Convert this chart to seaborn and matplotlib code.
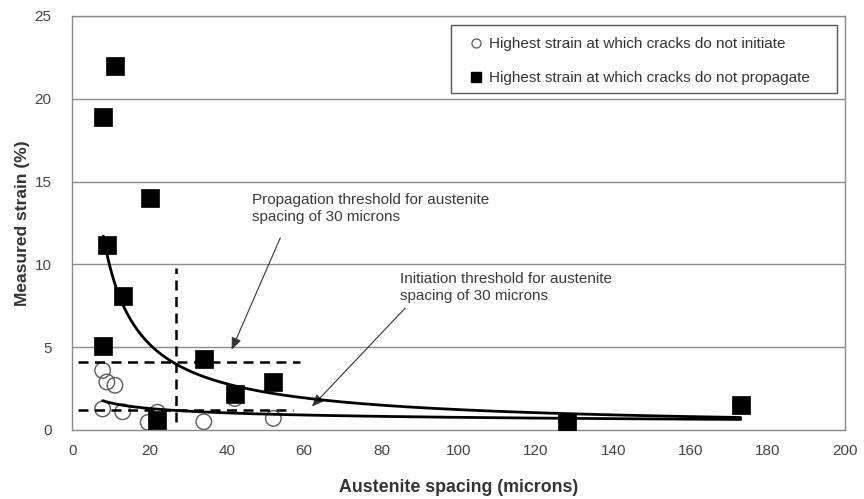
import numpy as np
import pandas as pd
import matplotlib
matplotlib.use("Agg")
import matplotlib.pyplot as plt
from matplotlib.lines import Line2D
from matplotlib.patches import Rectangle
import seaborn as sns

# Highest strain at which cracks do not initiate (open circles)
init_spacing = [7.8, 8.9, 11.0, 7.8, 13.0, 19.6, 22.0, 34.0, 42.0, 52.0, 128.0, 173.0]
init_strain = [3.6, 2.9, 2.7, 1.27, 1.1, 0.46, 1.07, 0.5, 1.9, 0.7, 0.5, 1.5]

# Highest strain at which cracks do not propagate (filled squares)
prop_spacing = [11.0, 8.0, 20.0, 9.0, 13.0, 8.0, 34.0, 42.0, 52.0, 22.0, 128.0, 173.0]
prop_strain = [22.0, 18.9, 14.0, 11.2, 8.1, 5.1, 4.3, 2.2, 2.9, 0.6, 0.5, 1.5]

# Threshold guide lines at 30 micron austenite spacing
guide_spacing = 26.7
prop_threshold = 4.1
init_threshold = 1.2

x_ticks = list(range(0, 201, 20))
y_ticks = list(range(0, 26, 5))

legend_labels = ["Highest strain at which cracks do not initiate",
                 "Highest strain at which cracks do not propagate"]
prop_note = "Propagation threshold for austenite\nspacing of 30 microns"
init_note = "Initiation threshold for austenite\nspacing of 30 microns"

sns.set_style("white")
plt.rcParams["font.family"] = ["Liberation Sans", "DejaVu Sans"]

init_df = pd.DataFrame({"spacing": init_spacing, "strain": init_strain})
prop_df = pd.DataFrame({"spacing": prop_spacing, "strain": prop_strain})


def power_trend(df, n=300):
    """Least-squares power-law trendline (straight line in log-log space)."""
    b, ln_a = np.polyfit(np.log(df["spacing"]), np.log(df["strain"]), 1)
    xs = np.linspace(df["spacing"].min(), df["spacing"].max(), n)
    return pd.DataFrame({"spacing": xs, "strain": np.exp(ln_a) * xs ** b})


fig = plt.figure(figsize=(8.64, 4.99), dpi=100)
ax = fig.add_axes([0.0839, 0.1383, 0.978 - 0.0839, 0.968 - 0.1383])

grid_c = "#8a8a8a"
for y in y_ticks[1:]:
    ax.axhline(y, color=grid_c, lw=1.0, zorder=0)

# data points
sns.scatterplot(data=init_df, x="spacing", y="strain", ax=ax, marker="o", s=125,
                facecolor="none", edgecolor="#5a5a5a", linewidth=1.0, zorder=2,
                legend=False)
sns.scatterplot(data=prop_df, x="spacing", y="strain", ax=ax, marker="s", s=150,
                color="black", edgecolor="black", linewidth=0.5, zorder=3,
                legend=False)

# power-law trendlines
sns.lineplot(data=power_trend(prop_df), x="spacing", y="strain", ax=ax,
             color="black", lw=2.0, zorder=4, legend=False)
sns.lineplot(data=power_trend(init_df), x="spacing", y="strain", ax=ax,
             color="black", lw=2.0, zorder=4, legend=False)

# dashed threshold guides
dash = (0, (4, 2.6))
ax.plot([guide_spacing, guide_spacing], [0.5, 9.8], color="black", lw=1.8,
        linestyle=dash, zorder=5)
ax.plot([1.5, 59], [prop_threshold, prop_threshold], color="black", lw=1.8,
        linestyle=dash, zorder=5)
ax.plot([1.5, 57], [init_threshold, init_threshold], color="black", lw=1.8,
        linestyle=dash, zorder=5)

# annotations
note_c = "#3a3a3a"
arrow = dict(arrowstyle="-|>,head_length=0.6,head_width=0.25", color="#333333",
             lw=0.8, shrinkA=0, shrinkB=0, mutation_scale=12)
ax.text(46.6, 14.3, prop_note, fontsize=11, color=note_c, va="top", ha="left",
        linespacing=1.3)
ax.annotate("", xy=(41.2, 4.85), xytext=(53.8, 11.6), arrowprops=arrow)
ax.text(84.8, 9.55, init_note, fontsize=11, color=note_c, va="top", ha="left",
        linespacing=1.3)
ax.annotate("", xy=(62.0, 1.42), xytext=(86.1, 7.35), arrowprops=arrow)

# axes
ax.set_xlim(0, 200)
ax.set_ylim(0, 25)
ax.set_xticks(x_ticks)
ax.set_yticks(y_ticks)
ax.tick_params(axis="both", labelsize=11, labelcolor="#444444", color=grid_c,
               direction="out", length=5, width=1)
ax.tick_params(axis="y", pad=10)
ax.tick_params(axis="x", pad=5)
for side in ["left", "bottom", "right", "top"]:
    ax.spines[side].set_visible(True)
    ax.spines[side].set_color(grid_c)
    ax.spines[side].set_linewidth(1.0)
ax.set_xlabel("Austenite spacing (microns)", fontsize=12.8, fontweight="bold",
              color="#333333", labelpad=15)
ax.set_ylabel("Measured strain (%)", fontsize=12.5, fontweight="bold",
              color="#333333", labelpad=3)

# legend box
ax.add_patch(Rectangle((0.490, 0.814), 0.4996, 0.164, transform=ax.transAxes,
                       facecolor="white", edgecolor="#555555", lw=1.0, zorder=6))
handles = [
    Line2D([], [], marker="o", linestyle="none", markersize=6.5,
           markerfacecolor="none", markeredgecolor="#5a5a5a", markeredgewidth=0.9),
    Line2D([], [], marker="s", linestyle="none", markersize=6.5,
           markerfacecolor="black", markeredgecolor="black"),
]
leg = ax.legend(handles, legend_labels, loc="center left",
                bbox_to_anchor=(0.517, 0.891), fontsize=11, frameon=False,
                borderpad=0, labelspacing=1.3, handlelength=0.6,
                handletextpad=0.55, borderaxespad=0)
leg.set_zorder(7)
for t in leg.get_texts():
    t.set_color("#333333")

fig.savefig("out.png", dpi=100, facecolor="white")
